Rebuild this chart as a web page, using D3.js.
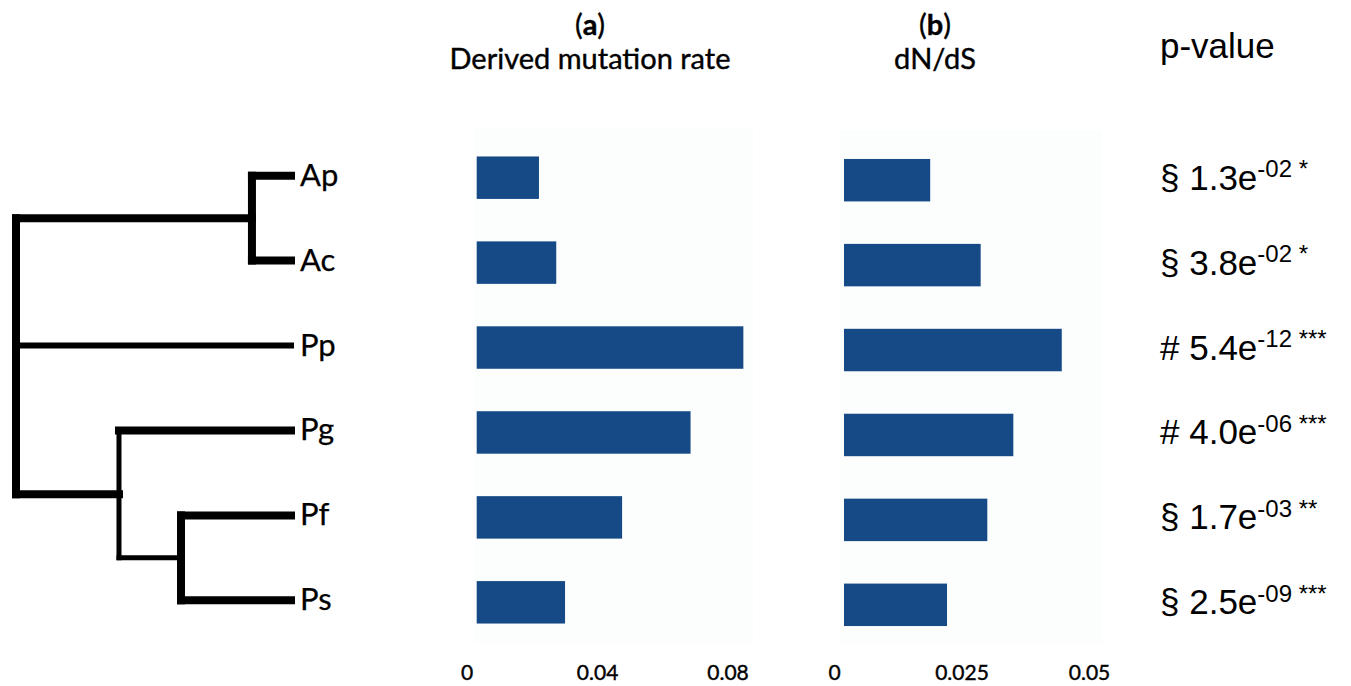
<!DOCTYPE html>
<html>
<head>
<meta charset="utf-8">
<script src="https://cdn.jsdelivr.net/npm/d3@7"></script>
<style>
  html, body { margin: 0; padding: 0; background: #ffffff; }
  svg { display: block; }
</style>
</head>
<body>
<svg id="chart" width="1351" height="686"></svg>
<script>
// ---------------- data ----------------
const species = ["Ap", "Ac", "Pp", "Pg", "Pf", "Ps"];
const mutationRate = [0.0191, 0.0244, 0.0818, 0.0656, 0.0446, 0.0271];
const dnds = [0.0169, 0.0268, 0.0427, 0.0332, 0.0281, 0.0202];
const mutationTicks = [0, 0.04, 0.08];
const mutationTickLabels = ["0", "0.04", "0.08"];
const dndsTicks = [0, 0.025, 0.05];
const dndsTickLabels = ["0", "0.025", "0.05"];
const pSymbols = ["§", "§", "#", "#", "§", "§"];
const pMantissa = ["1.3", "3.8", "5.4", "4.0", "1.7", "2.5"];
const pExponent = ["-02", "-02", "-12", "-06", "-03", "-09"];
const pStars = ["*", "*", "***", "***", "**", "***"];
// tree topology; "h" = relative node depth (root 0, leaves 1)
const tree = {
  name: "root", h: 0, children: [
    { name: "AA", h: 0.858, children: [{ name: "Ap", h: 1 }, { name: "Ac", h: 1 }] },
    { name: "Pp", h: 1 },
    { name: "PG", h: 0.3745, children: [
      { name: "Pg", h: 1 },
      { name: "PFS", h: 0.6, children: [{ name: "Pf", h: 1 }, { name: "Ps", h: 1 }] }
    ] }
  ]
};

// ---------------- drawing ----------------
const svg = d3.select("#chart");
const barColor = "#164a86";
const labelFont = "Lato, 'Open Sans', sans-serif";
const pFont = "'Liberation Sans', Arial, sans-serif";

const yA = d3.scaleBand().domain(species).range([114, 666]).padding(0.5);
const yB = d3.scaleBand().domain(species).range([116.5, 668.5]).padding(0.5);
const xA = d3.scaleLinear().domain([0, 0.08]).range([476.7, 737.5]);
const xB = d3.scaleLinear().domain([0, 0.05]).range([844, 1099]);

// faint plot areas
svg.append("rect").attr("x", 475).attr("y", 128).attr("width", 278).attr("height", 515).attr("fill", "#fcfdfd");
svg.append("rect").attr("x", 840).attr("y", 130).attr("width", 262).attr("height", 513).attr("fill", "#fcfdfd");

function heavy(sel, w) {
  return sel.attr("fill", "#000").attr("stroke", "#000").attr("stroke-width", w).attr("paint-order", "stroke");
}

// headers
function header(cx, letter, title) {
  const t = svg.append("text").attr("x", cx).attr("y", 35).attr("text-anchor", "middle")
    .attr("font-family", labelFont).attr("font-size", 29).call(heavy, 0.4);
  t.append("tspan").text("(");
  t.append("tspan").attr("font-weight", "bold").text(letter);
  t.append("tspan").text(")");
  svg.append("text").attr("x", cx).attr("y", 69).attr("text-anchor", "middle")
    .attr("font-family", labelFont).attr("font-size", 29).call(heavy, 0.4).text(title);
}
header(590, "a", "Derived mutation rate");
header(935, "b", "dN/dS");
svg.append("text").attr("x", 1160).attr("y", 58).attr("font-family", pFont)
  .attr("font-size", 35).attr("fill", "#000").text("p-value");

// bars
svg.append("g").selectAll("rect").data(species).join("rect")
  .attr("x", xA(0)).attr("y", d => yA(d))
  .attr("width", (d, i) => xA(mutationRate[i]) - xA(0))
  .attr("height", yA.bandwidth()).attr("fill", barColor);
svg.append("g").selectAll("rect").data(species).join("rect")
  .attr("x", xB(0)).attr("y", d => yB(d))
  .attr("width", (d, i) => xB(dnds[i]) - xB(0))
  .attr("height", yB.bandwidth()).attr("fill", barColor);

// axes
function styleAxis(g) {
  g.select(".domain").remove();
  g.selectAll("text").attr("font-family", labelFont).attr("font-size", 21)
    .call(heavy, 0.4).attr("dx", -10);
}
svg.append("g").attr("transform", "translate(0,662)")
  .call(d3.axisBottom(xA).tickValues(mutationTicks).tickSize(0)
    .tickFormat((d, i) => mutationTickLabels[i]))
  .call(styleAxis);
svg.append("g").attr("transform", "translate(0,662)")
  .call(d3.axisBottom(xB).tickValues(dndsTicks).tickSize(0)
    .tickFormat((d, i) => dndsTickLabels[i]))
  .call(styleAxis);

// p-values
const pG = svg.append("g");
species.forEach((s, i) => {
  const t = pG.append("text").attr("x", 1160).attr("y", yA(s) + yA.bandwidth() / 2 + 12)
    .attr("font-family", pFont).attr("font-size", 35).attr("fill", "#000");
  t.append("tspan").text(pSymbols[i] + " " + pMantissa[i] + "e");
  t.append("tspan").attr("font-size", 24).attr("dy", -12.8).text(pExponent[i] + " " + pStars[i]);
});

// tree
const root = d3.hierarchy(tree);
const xT = d3.scaleLinear().domain([0, 1]).range([16, 291]);
root.leaves().forEach(l => { l.yy = yA(l.data.name) + yA.bandwidth() / 2 - 2; });
root.eachAfter(n => { if (n.children) n.yy = d3.mean([n.children[0].yy, n.children[n.children.length - 1].yy]); });

const tG = svg.append("g").attr("stroke", "#000").attr("fill", "none").attr("stroke-linecap", "square");
root.each(n => {
  if (n.children) {
    const ys = n.children.map(c => c.yy);
    tG.append("line").attr("x1", xT(n.data.h)).attr("x2", xT(n.data.h))
      .attr("y1", d3.min(ys)).attr("y2", d3.max(ys))
      .attr("stroke-width", n.data.name === "PG" ? 5 : 8);
  }
  if (n.parent) {
    const w = n.data.name === "PFS" ? 5 : (n.data.name === "Pp" ? 6 : 8);
    tG.append("line").attr("x1", xT(n.parent.data.h)).attr("x2", xT(n.data.h))
      .attr("y1", n.yy).attr("y2", n.yy).attr("stroke-width", w);
  }
});
svg.append("g").selectAll("text").data(root.leaves()).join("text")
  .attr("x", 300).attr("y", d => d.yy + 10)
  .attr("font-family", labelFont).attr("font-size", 31).call(heavy, 0.25)
  .text(d => d.data.name);
</script>
</body>
</html>
